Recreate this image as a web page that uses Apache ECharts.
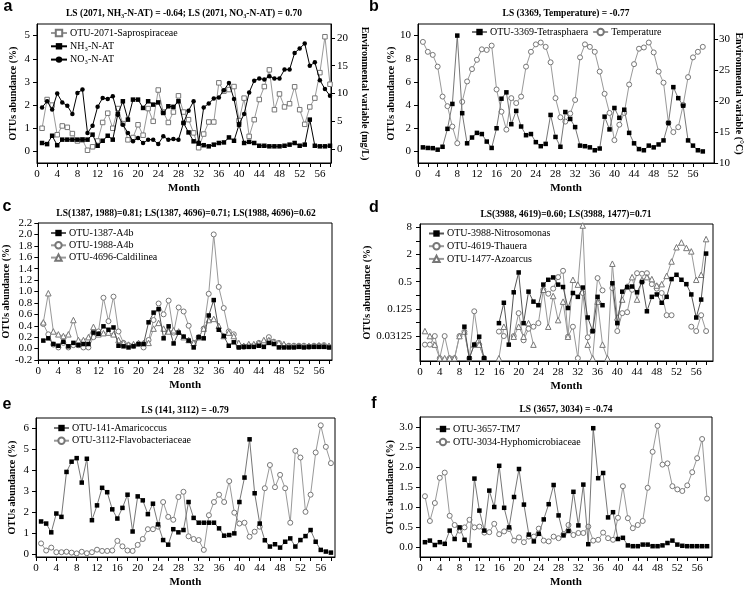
<!DOCTYPE html>
<html><head><meta charset="utf-8">
<script src="https://cdn.jsdelivr.net/npm/echarts@6/dist/echarts.min.js"></script>
<style>html,body{margin:0;padding:0;background:#fff}#c{width:745px;height:589px}</style>
</head><body><div id="c"></div><script>
const months = [1,2,3,4,5,6,7,8,9,10,11,12,13,14,15,16,17,18,19,20,21,22,23,24,25,26,27,28,29,30,31,32,33,34,35,36,37,38,39,40,41,42,43,44,45,46,47,48,49,50,51,52,53,54,55,56,57,58];
const xTicks = [0,2,4,6,8,10,12,14,16,18,20,22,24,26,28,30,32,34,36,38,40,42,44,46,48,50,52,54,56,58];
const xLabels = [0,4,8,12,16,20,24,28,32,36,40,44,48,52,56];

// panel a
const aLeftLabels = [0,1,2,3,4,5];
const aRightLabels = [0,5,10,15,20];
const a_sapro = [1.0,2.24,2.0,0.72,1.1,1.04,0.77,0.45,0.5,0.05,0.2,0.45,1.25,1.65,1.0,1.85,1.2,0.5,0.6,1.15,0.7,1.85,1.3,2.65,1.7,1.25,1.7,2.4,1.7,1.37,0.8,0.16,0.75,1.27,1.27,2.96,2.6,2.67,2.8,1.33,2.3,0.65,1.37,2.24,2.8,3.52,1.8,2.48,1.92,2.06,2.79,1.8,1.17,1.92,2.3,3.4,4.95,2.9];
const a_nh3 = [1.1,0.9,2.4,0.7,1.7,1.7,1.7,1.7,1.7,1.7,2.6,0.6,1.5,2.4,1.7,6.3,8.6,5.3,8.9,8.9,7.4,8.6,8.0,8.4,6.5,7.7,7.6,8.6,4.7,3.0,1.4,1.0,0.7,0.5,0.8,1.1,1.2,2.1,1.5,4.4,1.1,1.3,1.1,0.6,0.6,0.5,0.5,0.5,0.6,0.8,1.1,0.6,0.8,5.3,0.6,0.5,0.5,0.6];
const a_no3 = [7.5,8.6,7.1,10.0,8.4,7.8,6.3,10.1,10.7,2.9,4.2,7.6,9.2,9.0,9.5,6.2,4.4,2.9,1.4,2.0,1.1,1.7,1.7,0.9,2.3,1.7,1.8,1.7,4.7,6.9,8.6,1.2,7.5,8.2,9.1,9.3,10.6,11.9,9.0,4.5,6.3,10.2,12.3,12.7,12.5,13.1,12.7,12.7,14.3,14.3,17.3,18.1,19.0,15.0,15.6,12.4,10.8,9.6];

// panel b
const bLeftLabels = [0,2,4,6,8,10];
const bRightLabels = [10,15,20,25,30];
const b_tetra = [0.35,0.3,0.28,0.15,0.4,1.95,4.1,10.0,3.3,0.7,1.2,1.6,1.5,0.85,0.3,2.0,4.55,5.1,2.35,3.5,2.15,1.4,1.5,0.8,0.45,0.65,3.15,1.25,0.4,3.4,2.8,2.1,0.5,0.45,0.35,0.1,0.25,3.0,1.9,3.75,2.9,3.6,1.6,0.7,0.2,0.1,0.5,0.35,0.6,0.95,2.45,5.55,4.6,3.95,0.95,0.5,0.1,0.0];
const b_temp = [29.6,28.0,27.5,25.6,20.75,19.2,15.9,13.2,19.9,23.2,25.2,26.7,28.4,28.3,29.0,21.9,18.3,15.4,20.5,19.7,20.75,25.6,28.0,29.2,29.5,28.8,26.3,20.5,17.4,16.7,18.0,20.2,27.1,29.2,28.8,28.0,24.8,21.2,18.1,13.7,16.2,18.1,22.7,26.0,28.5,28.7,29.5,27.9,24.8,23.0,16.5,15.0,15.8,19.4,23.9,27.1,28.0,28.8];

// panel c
const cLabels = [-0.2,0,0.2,0.4,0.6,0.8,1.0,1.2,1.4,1.6,1.8,2.0,2.2];
const c_1387 = [0.14,0.18,0.08,0.05,0.12,0.04,0.1,0.06,0.08,0.08,0.28,0.26,0.39,0.33,0.37,0.05,0.04,0.02,0.04,0.08,0.08,0.46,0.63,0.69,0.18,0.39,0.09,0.28,0.21,0.14,0.02,0.2,0.18,0.58,0.85,0.33,0.22,0.05,0.11,0.02,0.03,0.03,0.03,0.05,0.03,0.1,0.08,0.02,0.02,0.02,0.02,0.03,0.02,0.03,0.03,0.03,0.03,0.02];
const c_1988 = [0.43,0.25,0.07,0.02,0.1,0.02,0.06,0.06,0.02,0.02,0.2,0.3,0.89,0.48,0.91,0.3,0.1,0.06,0.05,0.08,0.02,0.15,0.5,0.79,0.6,0.84,0.28,0.72,0.65,0.4,0.1,0.2,0.35,0.96,2.0,1.08,0.71,0.3,0.25,0.03,0.03,0.05,0.05,0.1,0.1,0.2,0.12,0.1,0.05,0.05,0.05,0.05,0.05,0.03,0.05,0.05,0.06,0.03];
const c_4696 = [0.46,0.97,0.3,0.25,0.22,0.25,0.5,0.15,0.15,0.2,0.38,0.25,0.27,0.28,0.25,0.15,0.1,0.07,0.08,0.1,0.1,0.1,0.35,0.45,0.35,0.3,0.32,0.3,0.2,0.15,0.1,0.2,0.35,0.5,0.52,0.4,0.22,0.28,0.22,0.1,0.05,0.08,0.08,0.1,0.15,0.15,0.12,0.1,0.08,0.05,0.05,0.05,0.05,0.05,0.05,0.06,0.05,0.05];

// panel d (log2 scale)
const dLabels = [0.03125,0.125,0.5,2,8];
const dTicks = [0.015625,0.03125,0.0625,0.125,0.25,0.5,1,2,4,8];
const d_3988 = [null,null,null,null,null,null,null,null,0.05,0.01,0.02,0.03,0.01,null,null,0.06,0.17,0.02,0.29,0.8,0.06,0.3,0.18,0.15,0.43,0.55,0.62,0.43,0.38,0.13,0.28,0.23,0.37,0.08,0.04,0.23,0.15,null,0.46,0.06,0.3,0.38,0.39,0.29,0.49,0.11,0.23,0.26,0.17,0.23,0.57,0.71,0.55,0.44,0.26,0.08,0.2,2.1];
const d_4619 = [0.02,0.02,0.031,0.01,0.031,0.01,0.01,0.031,0.039,0.01,0.11,0.02,0.01,null,null,0.039,0.031,null,0.031,0.1,0.025,0.045,0.05,0.06,0.33,0.27,0.35,0.63,0.87,0.03,0.05,0.01,0.28,0.029,0.04,0.6,0.32,null,0.36,0.04,0.1,0.105,0.33,0.77,0.75,0.77,0.44,0.35,0.28,0.09,0.09,null,null,null,0.05,0.04,0.09,0.04];
const d_1477 = [0.04,0.031,0.02,0.01,0.01,0.01,0.01,0.031,0.039,0.01,0.02,0.02,0.01,null,null,0.01,0.05,null,0.03,0.05,0.03,0.06,0.02,null,0.33,0.05,0.24,0.07,0.18,0.03,0.55,0.43,8.8,0.02,0.01,0.18,0.02,0.01,1.25,0.08,0.2,0.39,0.63,0.2,0.55,0.63,0.57,0.41,0.44,0.67,1.4,2.9,3.7,2.8,2.35,0.55,0.71,4.4];

// panel e
const eLabels = [0,1,2,3,4,5,6];
const e_141 = [1.55,1.45,1.03,1.93,1.77,3.92,4.41,4.58,3.41,4.55,1.61,2.32,3.16,2.95,2.13,1.69,2.2,2.83,1.07,2.75,2.56,1.9,2.4,1.41,0.66,0.44,1.18,1.03,1.14,2.48,1.72,1.49,1.49,1.49,1.49,1.22,0.87,0.9,0.98,2.48,3.65,5.48,2.9,1.45,0.65,0.35,0.46,0.3,0.58,0.74,0.35,0.66,0.85,1.14,0.58,0.19,0.11,0.06];
const e_3112 = [0.5,0.16,0.3,0.08,0.08,0.1,0.06,0.02,0.1,0.03,0.08,0.2,0.14,0.14,0.16,0.62,0.36,0.16,0.14,0.43,0.71,1.18,1.18,1.3,2.48,1.77,1.63,2.72,2.97,0.84,0.71,0.66,0.19,1.85,2.48,2.83,2.48,3.48,1.97,1.45,1.49,0.82,1.06,1.3,3.14,4.25,3.19,3.78,3.14,1.49,4.93,4.61,2.01,2.83,4.85,6.15,5.12,4.34];

// panel f
const fLabels = [0,0.5,1.0,1.5,2.0,2.5,3.0];
const f_3657 = [0.12,0.16,0.05,0.12,0.08,0.41,0.2,0.49,0.18,0.04,1.71,0.91,0.41,1.41,1.0,2.03,0.98,0.49,1.25,1.95,1.06,0.31,0.14,0.33,0.69,1.07,1.55,0.79,0.29,0.4,1.38,0.54,1.56,0.07,2.97,1.72,1.85,0.74,0.87,0.2,0.23,0.04,0.02,0.02,0.06,0.06,0.02,0.02,0.04,0.1,0.16,0.06,0.03,0.02,0.02,0.02,0.02,0.02];
const f_3034 = [1.27,0.65,1.1,1.73,1.86,0.78,0.55,0.41,0.49,0.68,0.49,0.51,0.36,0.37,0.58,0.32,0.39,0.45,0.16,0.24,0.12,0.26,0.26,0.46,0.16,0.14,0.26,0.22,0.32,0.55,0.3,0.35,0.35,0.51,0.16,0.18,0.36,0.22,0.18,0.73,1.52,0.72,0.47,0.55,0.65,1.48,2.38,3.03,2.06,2.09,1.52,1.44,1.4,1.54,1.87,2.22,2.7,1.21];

const serif = "'Liberation Serif','Times New Roman',serif";
const sans = "'Liberation Sans',Arial,sans-serif";
const log2 = v => (v == null ? '-' : Math.log2(v));

const grids = [
  {left:37, top:24, width:294, height:139},
  {left:418, top:24, width:300, height:139},
  {left:38, top:223, width:294, height:137},
  {left:420, top:224, width:293, height:137},
  {left:36, top:418, width:299, height:140},
  {left:420, top:417, width:292, height:141}
].map(g => Object.assign({show:true, borderColor:'#000', borderWidth:1, backgroundColor:'transparent'}, g));

const xMax = [58.2, 60.3, 58.6, 59.4, 58.8, 59];
const xAxes = xMax.map((mx, gi) => ({
  gridIndex: gi, type:'value', min:0, max:mx,
  name:'Month', nameLocation:'middle', nameGap:20,
  nameTextStyle:{fontFamily:serif, fontWeight:'bold', fontSize:11, color:'#000'},
  axisLine:{show:true, onZero:false, lineStyle:{color:'#000', width:1}},
  axisTick:{show:true, length:4, customValues:xTicks, lineStyle:{color:'#000'}},
  axisLabel:{customValues:xLabels, fontFamily:serif, fontSize:11, color:'#000', margin:6},
  splitLine:{show:false}
}));

function yAx(gi, min, max, labels, ticks, o) {
  o = o || {};
  return {
    gridIndex: gi, type:'value', min, max, position: o.right ? 'right' : 'left',
    name: o.name || 'OTUs abundance (%)', nameLocation:'middle', nameGap: o.gap || 20,
    nameRotate: o.right ? -90 : 90,
    nameTextStyle:{fontFamily:serif, fontWeight:'bold', fontSize:10, color:'#000'},
    axisLine:{show:true, onZero:false, lineStyle:{color:'#000', width:1}},
    axisTick:{show:true, length:4, customValues:ticks, lineStyle:{color:'#000'}},
    axisLabel:{customValues:labels, fontFamily:serif, fontSize:11, color:'#000', margin: o.margin || 7,
      formatter: o.fmt || (v => String(v))},
    splitLine:{show:false}
  };
}
const fix1 = v => (Math.round(v*10)/10).toFixed(1);
const yAxes = [
  yAx(0, -0.5, 5.5, aLeftLabels, aLeftLabels, {gap:19}),
  yAx(0, -2.5, 22.5, aRightLabels, aRightLabels, {right:true, name:'Environmental variable (mg/L)', gap:29, margin:6}),
  yAx(1, -1, 11, bLeftLabels, bLeftLabels, {gap:21}),
  yAx(1, 10, 32.5, bRightLabels, bRightLabels, {right:true, name:'Environmental variable (\u00B0C)', gap:17, margin:5}),
  yAx(2, -0.2, 2.2, cLabels, cLabels, {gap:22, fmt:fix1, margin:6}),
  yAx(3, -6.85, 3.25, dLabels.map(Math.log2), dTicks.map(Math.log2), {gap:33, margin:8, fmt: v => String(Math.pow(2, Math.round(v)))}),
  yAx(4, -0.15, 6.5, eLabels, eLabels, {gap:19}),
  yAx(5, -0.25, 3.25, fLabels, fLabels, {gap:25, fmt:fix1})
];

function ser(name, gi, yi, vals, sym, filled, o) {
  o = o || {};
  return {
    type:'line', name, xAxisIndex:gi, yAxisIndex:yi,
    data: months.map((m, i) => [m, o.tf ? o.tf(vals[i]) : vals[i]]),
    symbol: sym, symbolSize: o.size || 4.5, showSymbol:true, connectNulls:false,
    lineStyle:{color: o.line || (filled ? '#444' : '#999'), width: o.lw || 1},
    itemStyle: filled ? {color:'#000', borderColor:'#000', borderWidth:0}
                      : {color:'#fff', borderColor:'#777', borderWidth:1},
    emphasis:{disabled:true}, z: filled ? 3 : 2
  };
}

const series = [
  ser('OTU-2071-Saprospiraceae', 0, 0, a_sapro, 'rect', false, {size:4.5}),
  ser('NH\u2083-N-AT', 0, 1, a_nh3, 'rect', true, {line:'#000', size:4.5}),
  ser('NO\u2083-N-AT', 0, 1, a_no3, 'circle', true, {line:'#000', size:4.5}),
  ser('OTU-3369-Tetrasphaera', 1, 2, b_tetra, 'rect', true, {line:'#777', size:4.5}),
  ser('Temperature', 1, 3, b_temp, 'circle', false, {size:5}),
  ser('OTU-1387-A4b', 2, 4, c_1387, 'rect', true, {line:'#555', size:4.5}),
  ser('OTU-1988-A4b', 2, 4, c_1988, 'circle', false, {size:5}),
  ser('OTU-4696-Caldilinea', 2, 4, c_4696, 'triangle', false, {size:5.5}),
  ser('OTU-3988-Nitrosomonas', 3, 5, d_3988, 'rect', true, {line:'#555', size:4.5, tf:log2}),
  ser('OTU-4619-Thauera', 3, 5, d_4619, 'circle', false, {size:5, tf:log2}),
  ser('OTU-1477-Azoarcus', 3, 5, d_1477, 'triangle', false, {size:5.5, tf:log2}),
  ser('OTU-141-Amaricoccus', 4, 6, e_141, 'rect', true, {line:'#777', size:4.5}),
  ser('OTU-3112-Flavobacteriaceae', 4, 6, e_3112, 'circle', false, {size:5}),
  ser('OTU-3657-TM7', 5, 7, f_3657, 'rect', true, {line:'#777', size:4.5}),
  ser('OTU-3034-Hyphomicrobiaceae', 5, 7, f_3034, 'circle', false, {size:5})
];

function leg(names, left, top, o) {
  o = o || {};
  return {
    data: names, left, top, orient: o.h ? 'horizontal' : 'vertical', padding:0,
    itemWidth: o.w || 16, itemHeight: 8, itemGap: o.gap || 3,
    textStyle:{fontFamily:serif, fontSize:10, color:'#000', padding:[0,0,0,-2]},
    selectedMode:false
  };
}
const legends = [
  leg(['OTU-2071-Saprospiraceae','NH\u2083-N-AT','NO\u2083-N-AT'], 50, 28, {gap:3.3}),
  leg(['OTU-3369-Tetrasphaera','Temperature'], 471, 27, {h:true, w:15, gap:4}),
  leg(['OTU-1387-A4b','OTU-1988-A4b','OTU-4696-Caldilinea'], 50, 228, {w:15, gap:2.3}),
  leg(['OTU-3988-Nitrosomonas','OTU-4619-Thauera','OTU-1477-Azoarcus'], 428, 228.5, {w:15, gap:2.7}),
  leg(['OTU-141-Amaricoccus','OTU-3112-Flavobacteriaceae'], 53, 423, {w:15, gap:2.7}),
  leg(['OTU-3657-TM7','OTU-3034-Hyphomicrobiaceae'], 435, 424, {w:14, gap:3})
];

function txt(text, x, y, font) {
  return {type:'text', x, y, silent:true,
    style:{text, font, fill:'#000', align:'center', verticalAlign:'middle'}};
}
const tFont = "bold 9.5px " + serif;
const lFont = "bold 16px " + sans;
const graphics = [
  txt('a', 8, 7, lFont), txt('b', 374, 7, lFont), txt('c', 7, 207, lFont),
  txt('d', 374, 208, lFont), txt('e', 7, 405, lFont), txt('f', 374, 404, lFont),
  txt('LS (2071, NH\u2083-N-AT) = -0.64; LS (2071, NO\u2083-N-AT) = 0.70', 184, 14, tFont),
  txt('LS (3369, Temperature) = -0.77', 566, 14, tFont),
  txt('LS(1387, 1988)=0.81; LS(1387, 4696)=0.71; LS(1988, 4696)=0.62', 186, 214, tFont),
  txt('LS(3988, 4619)=0.60; LS(3988, 1477)=0.71', 566, 215, tFont),
  txt('LS (141, 3112) = -0.79', 185, 411, tFont),
  txt('LS (3657, 3034) = -0.74', 566, 410, tFont)
];

const chart = echarts.init(document.getElementById('c'), null, {renderer:'canvas'});
chart.setOption({
  animation:false, backgroundColor:'#fff',
  grid: grids, xAxis: xAxes, yAxis: yAxes, series, legend: legends, graphic: graphics
});
</script></body></html>
